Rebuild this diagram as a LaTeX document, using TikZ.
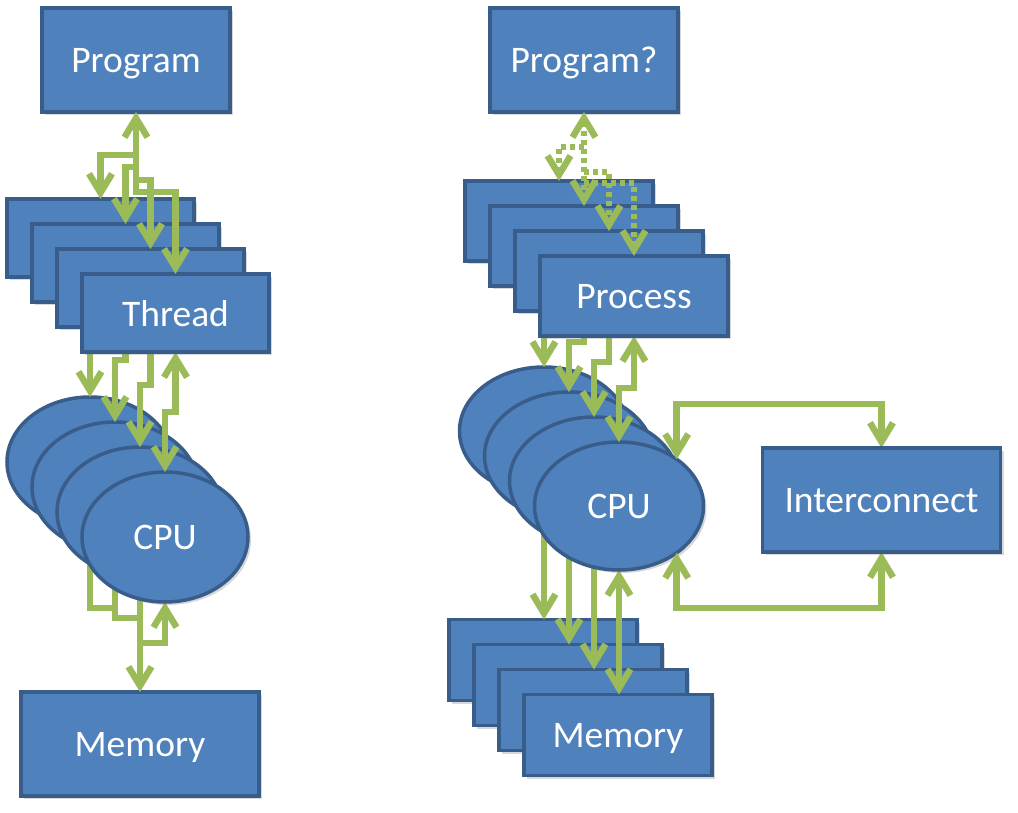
\documentclass[tikz,border=0pt]{standalone}
\usepackage{fontspec}
\setmainfont{Carlito}
\usetikzlibrary{arrows.meta,shadows,shapes.geometric,calc}
\pgfdeclarelayer{memL}
\pgfdeclarelayer{cmL}
\pgfdeclarelayer{cpuL}
\pgfdeclarelayer{tcL}
\pgfdeclarelayer{thrL}
\pgfsetlayers{memL,cmL,cpuL,tcL,thrL,main}
\definecolor{boxfill}{HTML}{4F81BD}
\definecolor{boxline}{HTML}{385D8A}
\definecolor{ogreen}{HTML}{9BBB59}
\begin{document}
\begin{tikzpicture}[x=1pt,y=-1pt,
  >={Straight Barb[length=19pt,width=23pt]},
  shapebase/.style={fill=boxfill, draw=boxline, line width=3.5pt, text=white,
    font=\fontsize{37.5}{44}\selectfont, inner sep=0pt, outer sep=0pt, text depth=0pt,
    drop shadow={shadow xshift=3pt,shadow yshift=-3pt,opacity=0.3}},
  bigbox/.style={shapebase, rectangle, minimum width=188pt, minimum height=104pt},
  widebox/.style={shapebase, rectangle, minimum width=238pt, minimum height=104pt},
  thrbox/.style={shapebase, rectangle, minimum width=187pt, minimum height=78pt},
  procbox/.style={shapebase, rectangle, minimum width=188pt, minimum height=80pt},
  membox/.style={shapebase, rectangle, minimum width=188pt, minimum height=81pt},
  cpuL/.style={shapebase, ellipse, minimum width=166pt, minimum height=130pt},
  cpuR/.style={shapebase, ellipse, minimum width=169pt, minimum height=128pt},
  garrow/.style={draw=ogreen, line width=6.5pt},
  dotline/.style={dash pattern=on 5pt off 4pt}]
\useasboundingbox (0,0) rectangle (1018,813);

% ---------- memory layer ----------
\begin{pgfonlayer}{memL}
\fill[white] (0,0) rectangle (1018,813);
\node[widebox] (LMem) at (140,744) {Memory};
\node[membox] (RM1) at (543,660) {};
\node[membox] (RM2) at (568,685) {};
\node[membox] (RM3) at (593,710) {};
\node[membox] (RM4) at (618,735) {Memory};
\end{pgfonlayer}

% ---------- CPU layer ----------
\begin{pgfonlayer}{cpuL}
\node[cpuL] (LE1) at (90,462) {};
\node[cpuL] (LE2) at (115,487) {};
\node[cpuL] (LE3) at (140,512) {};
\node[cpuL] (LE4) at (165,537) {CPU};
\node[cpuR] (RE1) at (544,431) {};
\node[cpuR] (RE2) at (569,456) {};
\node[cpuR] (RE3) at (594,481) {};
\node[cpuR] (RE4) at (619,506) {CPU};
\end{pgfonlayer}

% ---------- thread / process layer ----------
\begin{pgfonlayer}{thrL}
\node[thrbox] (LT1) at (100.5,238) {};
\node[thrbox] (LT2) at (125.5,263) {};
\node[thrbox] (LT3) at (150.5,288) {};
\node[thrbox] (LT4) at (175.5,313) {Thread};
\node[procbox] (RP1) at (559,221) {};
\node[procbox] (RP2) at (584,246) {};
\node[procbox] (RP3) at (609,271) {};
\node[procbox] (RP4) at (634,296) {Process};
\end{pgfonlayer}

% ---------- top boxes ----------
\node[bigbox] (LProg) at (136,60) {Program};
\node[bigbox] (RProg) at (584,60) {Program?};
\node[widebox] (Inter) at (881.5,500) {Interconnect};

% ---------- CPU -> memory ----------
\begin{pgfonlayer}{cmL}
\draw[garrow] (LE1.south) |- (LE2.south |- 0,608);
\draw[garrow] (LE2.south) |- (LE3.south |- 0,618);
\draw[garrow,->] (LE3.south) -- (LE3.south |- LMem.north);
\draw[garrow,<-] (LE4.south) |- (LE3.south |- 0,643);
\draw[garrow,->] (RE1.south) -- (RE1.south |- RM1.north);
\draw[garrow,->] (RE2.south) -- (RE2.south |- RM2.north);
\draw[garrow,->] (RE3.south) -- (RE3.south |- RM3.north);
\draw[garrow,<->] (RE4.south) -- (RE4.south |- RM4.north);
\end{pgfonlayer}

% ---------- thread/process -> CPU, interconnect ----------
\begin{pgfonlayer}{tcL}
\draw[garrow,->] (LT1.south) |- (LE1.north |- 0,345) -- (LE1.north);
\draw[garrow,->] (LT2.south) |- (LE2.north |- 0,360) -- (LE2.north);
\draw[garrow,->] (LT3.south) |- (LE3.north |- 0,385) -- (LE3.north);
\draw[garrow,<->] (LT4.south) |- (LE4.north |- 0,412) -- (LE4.north);
\draw[garrow,->] (RP1.south) |- (RE1.north |- 0,330) -- (RE1.north);
\draw[garrow,->] (RP2.south) |- (RE2.north |- 0,342) -- (RE2.north);
\draw[garrow,->] (RP3.south) |- (RE3.north |- 0,362) -- (RE3.north);
\draw[garrow,<->] (RP4.south) |- (RE4.north |- 0,388) -- (RE4.north);
\draw[garrow,<->] (RE4.39) -- (RE4.39 |- 0,404) -| (Inter.north);
\draw[garrow,<->] (RE4.-39) -- (RE4.-39 |- 0,608) -| (Inter.south);
\end{pgfonlayer}

% ---------- program -> threads ----------
\draw[garrow,<-] (LProg.south) -- (LProg.south |- 0,195);
\draw[garrow,->] (LProg.south |- 0,155) -| (LT1.north);
\draw[garrow,->] (LProg.south |- 0,167) -| (LT2.north);
\draw[garrow,->] (LProg.south |- 0,180) -| (LT3.north);
\draw[garrow,->] (LProg.south |- 0,192) -| (LT4.north);

% ---------- program? -> processes (dotted) ----------
\draw[garrow,dotline,<->] (RProg.south) -- (RP2.north);
\draw[garrow,dotline,->] (RProg.south |- 0,147) -| (RP1.north);
\draw[garrow,dotline,->] (RProg.south |- 0,172) -| (RP3.north);
\draw[garrow,dotline,->] (RProg.south |- 0,183) -| (RP4.north);
\end{tikzpicture}
\end{document}
